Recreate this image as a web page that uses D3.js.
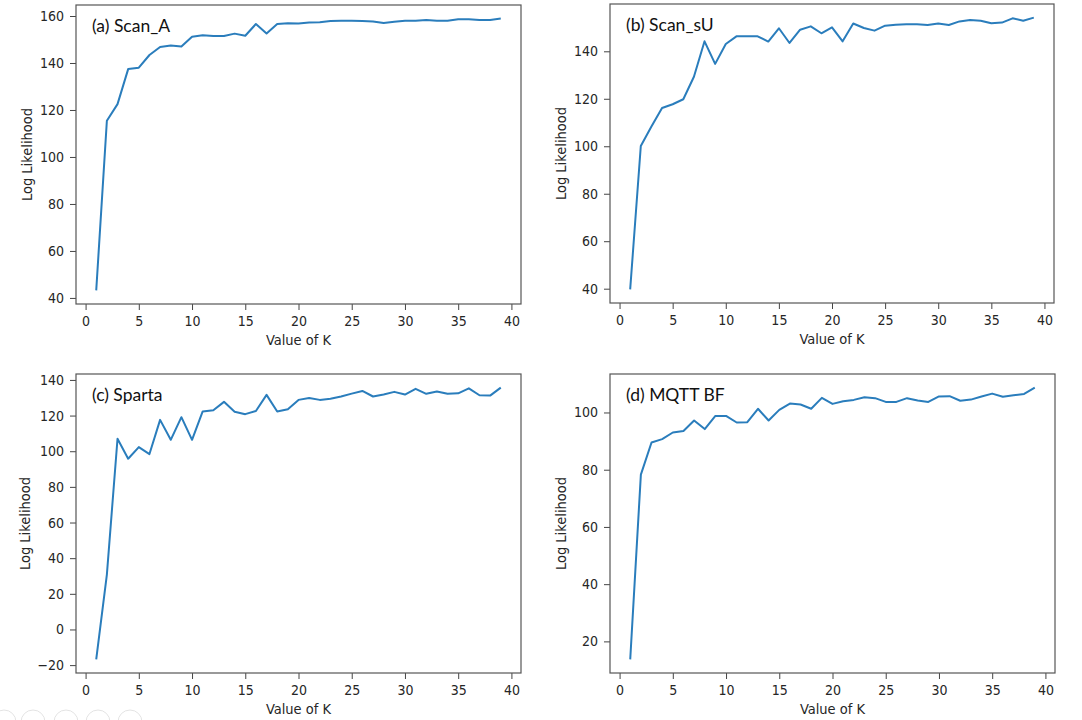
<!DOCTYPE html>
<html>
<head>
<meta charset="utf-8">
<script src="https://cdn.jsdelivr.net/npm/d3@7"></script>
<style>
  body { margin: 0; background: #fff; }
  svg { display: block; }
  .tick text { font-family: "DejaVu Sans Condensed", "DejaVu Sans", sans-serif; font-size: 14px; fill: #262626; }
  .tick line { stroke: #444; }
  .domain { display: none; }
</style>
</head>
<body>
<svg id="chart" width="1082" height="720"></svg>
<script>
const K = d3.range(1, 40);

const scanA = [43.2, 115.4, 122.5, 137.4, 138, 143.4, 146.8, 147.4, 147, 151.2,
  151.8, 151.5, 151.5, 152.5, 151.6, 156.6, 152.6, 156.6, 156.9, 156.8,
  157.2, 157.3, 157.9, 158, 158, 157.9, 157.7, 157, 157.6, 158,
  158, 158.3, 158, 158, 158.6, 158.6, 158.3, 158.3, 158.9];

const scanSU = [39.7, 100.1, 108.3, 116.1, 117.7, 119.8, 129.3, 144.2, 134.7, 143.1,
  146.3, 146.3, 146.3, 144.1, 149.7, 143.5, 149.1, 150.5, 147.6, 150.1,
  144.2, 151.7, 149.8, 148.7, 150.8, 151.2, 151.4, 151.4, 151.1, 151.7,
  151.1, 152.6, 153.2, 152.9, 151.8, 152.1, 153.9, 152.9, 154.2];

const sparta = [-16.8, 30.8, 107, 95.8, 102.3, 98.4, 117.6, 106.4, 119.1, 106.4,
  122.3, 123, 127.7, 122.1, 120.8, 122.6, 131.6, 122.3, 123.6, 128.8,
  129.9, 128.8, 129.4, 130.7, 132.3, 133.8, 130.7, 131.8, 133.3, 131.8,
  135, 132.2, 133.5, 132.2, 132.5, 135.3, 131.4, 131.2, 135.7];

const mqttBF = [13.7, 78.3, 89.5, 90.7, 93, 93.5, 97.2, 94.2, 98.8, 98.8,
  96.5, 96.6, 101.3, 97.2, 100.9, 103.1, 102.8, 101.3, 105.1, 103,
  103.9, 104.4, 105.3, 105, 103.7, 103.7, 105, 104.2, 103.7, 105.6,
  105.7, 104.1, 104.5, 105.6, 106.6, 105.5, 106, 106.5, 108.7];

const titles = ['(a) Scan_A', '(b) Scan_sU', '(c) Sparta', '(d) MQTT BF'];
const xTicks = [0, 5, 10, 15, 20, 25, 30, 35, 40];
const yTicksA = [40, 60, 80, 100, 120, 140, 160];
const yTicksB = [40, 60, 80, 100, 120, 140];
const yTicksC = [-20, 0, 20, 40, 60, 80, 100, 120, 140];
const yTicksD = [20, 40, 60, 80, 100];

const svg = d3.select('#chart');

// matplotlib-style 5% padding on the data range
const pad = (ext) => {
  const m = (ext[1] - ext[0]) * 0.05;
  return [ext[0] - m, ext[1] + m];
};

const panels = [
  { vals: scanA, yTicks: yTicksA, box: [76, 5, 521, 304], ylabX: 27 },
  { vals: scanSU, yTicks: yTicksB, box: [610, 4, 1054, 303], ylabX: 561 },
  { vals: sparta, yTicks: yTicksC, box: [76, 374, 521, 673], ylabX: 25 },
  { vals: mqttBF, yTicks: yTicksD, box: [610, 374, 1055, 673], ylabX: 561 },
];

const labelFont = '"DejaVu Sans Condensed", "DejaVu Sans", sans-serif';

const drawPanel = (p, i) => {
  const [x0, y0, x1, y1] = p.box;
  const x = d3.scaleLinear().domain(pad(d3.extent(K))).range([x0, x1]);
  const y = d3.scaleLinear().domain(pad(d3.extent(p.vals))).range([y1, y0]);
  const g = svg.append('g');

  g.append('g')
    .attr('transform', `translate(0,${y1})`)
    .call(d3.axisBottom(x).tickValues(xTicks).tickFormat(d3.format('d')).tickSize(6).tickPadding(6));

  g.append('g')
    .attr('transform', `translate(${x0},0)`)
    .call(d3.axisLeft(y).tickValues(p.yTicks).tickFormat((d) => (d < 0 ? '\u2212' + Math.abs(d) : d)).tickSize(6).tickPadding(6));

  g.append('path')
    .datum(p.vals)
    .attr('fill', 'none')
    .attr('stroke', '#2a7dbc')
    .attr('stroke-width', 2)
    .attr('stroke-linejoin', 'round')
    .attr('d', d3.line().x((d, j) => x(K[j])).y((d) => y(d)));

  g.append('rect')
    .attr('x', x0).attr('y', y0)
    .attr('width', x1 - x0).attr('height', y1 - y0)
    .attr('fill', 'none').attr('stroke', '#555').attr('stroke-width', 1.2);

  g.append('text')
    .attr('x', (x0 + x1) / 2).attr('y', y1 + 41)
    .attr('text-anchor', 'middle')
    .style('font-family', labelFont).style('font-size', '14.5px').style('fill', '#262626')
    .text('Value of K');

  g.append('text')
    .attr('transform', `translate(${p.ylabX},${(y0 + y1) / 2}) rotate(-90)`)
    .attr('text-anchor', 'middle').attr('dy', '0.35em')
    .style('font-family', labelFont).style('font-size', '14.5px').style('fill', '#262626')
    .text('Log Likelihood');

  g.append('text')
    .attr('x', x0 + 16).attr('y', y0 + 27)
    .style('font-family', 'Lato, "Open Sans", sans-serif').style('font-size', '17.5px').style('fill', '#111')
    .text(titles[i]);
};

panels.forEach(drawPanel);

// faint toolbar icons bottom-left of the screenshot
svg.append('g').selectAll('circle')
  .data([4, 33, 66, 98, 130])
  .join('circle')
  .attr('cx', (d) => d).attr('cy', 722).attr('r', 12)
  .attr('fill', 'none').attr('stroke', '#e4e4e4').attr('stroke-width', 1);
</script>
</body>
</html>
